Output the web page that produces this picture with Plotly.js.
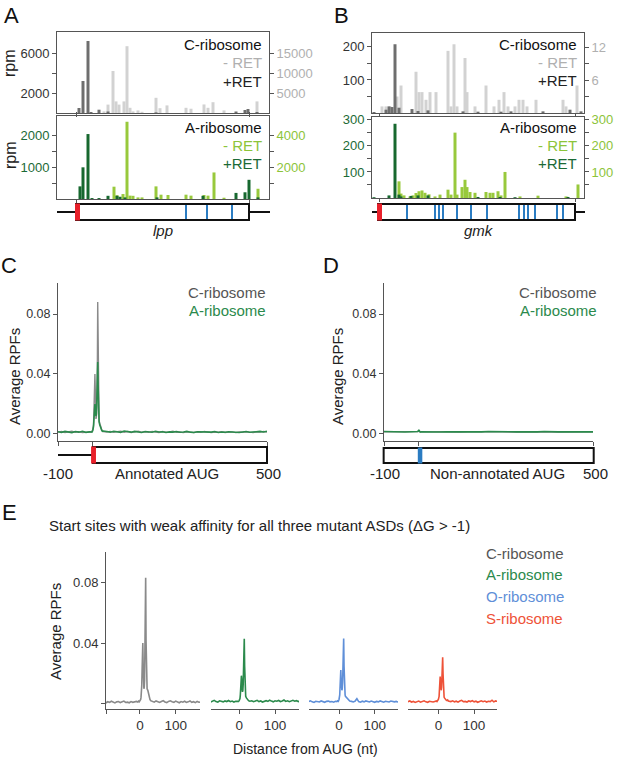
<!DOCTYPE html>
<html><head><meta charset="utf-8">
<script src="https://cdn.plot.ly/plotly-3.0.1.min.js"></script>
<style>html,body{margin:0;padding:0;background:#fff}</style>
</head><body><div id="chart" style="width:617px;height:763px"></div>
<script>
// ================= DATA =================
// Panel A (lpp) - positions along gene (start codon = 0)
const lppLen = 173;
const lppMarks = [110, 131, 156];
const lppC_plusPos = [3, 7, 12, 15, 23, 32, 80, 160, 169, 172, 181];
const lppC_plusVal = [500, 3200, 7200, 100, 330, 150, 60, 150, 300, 400, 100];
const lppC_minusPos = [28, 32, 37, 40, 43, 48, 51, 54, 57, 62, 66, 80, 84, 91, 110, 115, 128, 132, 137, 148, 181];
const lppC_minusVal = [400, 2100, 10500, 2900, 2100, 2900, 16700, 1300, 400, 650, 300, 3800, 1200, 1900, 1300, 1070, 2140, 1300, 2700, 650, 2900];
const lppA_plusPos = [4, 7, 12, 16, 23, 32, 41, 44, 49, 81, 127, 160, 169, 173, 182];
const lppA_plusVal = [395, 990, 2030, 30, 30, 100, 100, 70, 50, 50, 100, 190, 210, 600, 50];
const lppA_minusPos = [38, 41, 47, 51, 54, 57, 62, 66, 80, 85, 92, 110, 115, 128, 132, 138, 148, 182];
const lppA_minusVal = [770, 240, 310, 4830, 210, 200, 100, 100, 790, 270, 250, 270, 210, 250, 210, 1660, 80, 640];

// Panel B (gmk)
const gmkStart = -1, gmkEnd = 196;
const gmkMarks = [28, 56, 60, 64, 78, 92, 108, 140, 145, 149, 156, 178, 184];
const gmkC_plusPos = [-5, 7, 10, 13, 16, 20, 33, 39, 49, 84, 99, 122, 132, 164, 191, 202];
const gmkC_plusVal = [3, 10, 20, 18, 208, 16, 12, 6, 8, 5, 4, 4, 5, 5, 10, 5];
const gmkC_minusPos = [3, 7, 11, 18, 22, 37, 40, 43, 47, 51, 57, 69, 72, 75, 78, 86, 88, 96, 107, 115, 120, 125, 129, 136, 140, 144, 148, 157, 184, 187, 198];
const gmkC_minusVal = [1.2, 1.2, 1.2, 3.0, 5.0, 7.5, 3.8, 3.8, 2.4, 3.8, 3.8, 11.3, 1.2, 12.5, 1.2, 10.0, 3.8, 1.2, 5.0, 1.2, 2.4, 3.8, 1.2, 1.2, 2.4, 2.4, 1.2, 2.4, 2.4, 1.2, 5.0];
const gmkA_plusPos = [-5, 10, 16, 20, 22, 32, 39, 49, 99, 121, 136, 189];
const gmkA_plusVal = [3, 10, 285, 13, 6, 8, 10, 10, 4, 4, 3, 4];
const gmkA_minusPos = [20, 22, 25, 31, 34, 37, 40, 43, 46, 50, 56, 61, 69, 72, 76, 78, 83, 86, 88, 91, 96, 107, 111, 114, 119, 122, 126, 141, 159, 187, 199];
const gmkA_minusVal = [64, 17, 10, 6, 10, 19, 26, 29, 20, 14, 6, 13, 32, 13, 251, 13, 42, 70, 42, 23, 20, 23, 20, 20, 26, 10, 100, 6, 9, 6, 52];

// Panel C (annotated AUG metagene)
const posC = [-100,-90,-80,-70,-60,-50,-40,-30,-20,-10,
  -6,-4,-2,0,2,3,4,5,6,7,8,9,10,11,12,13,14,15,16,17,18,20,22,24,26,28,30,
  40,50,60,70,80,90,100,110,120,130,140,150,160,170,180,190,200,210,220,230,240,250,260,270,280,290,300,310,320,330,340,350,360,370,380,390,400,410,420,430,440,450,460,470,480,490,500];
const cC = [0.0012,0.0016,0.0010,0.0014,0.0018,0.0011,0.0015,0.0009,0.0013,0.0017,
  0.0014,0.0012,0.0018,0.0030,0.0060,0.0120,0.0250,0.0360,0.0400,0.0300,0.0150,0.0100,0.0110,0.0140,0.0220,0.0450,0.0880,0.0500,0.0200,0.0110,0.0090,0.0070,0.0050,0.0035,0.0025,0.0020,0.0016,
  0.0013,0.0017,0.0011,0.0015,0.0019,0.0012,0.0016,0.0010,0.0014,0.0018,
  0.0012,0.0015,0.0011,0.0017,0.0013,0.0010,0.0016,0.0012,0.0014,0.0018,
  0.0011,0.0013,0.0009,0.0015,0.0012,0.0010,0.0014,0.0011,0.0016,0.0012,
  0.0009,0.0013,0.0011,0.0015,0.0010,0.0012,0.0014,0.0009,0.0013,0.0011,
  0.0015,0.0012,0.0010,0.0014,0.0012,0.0016,0.0013];
const aC = [0.0015,0.0011,0.0017,0.0013,0.0009,0.0016,0.0012,0.0018,0.0011,0.0014,
  0.0012,0.0016,0.0013,0.0025,0.0050,0.0090,0.0150,0.0190,0.0200,0.0170,0.0140,0.0120,0.0130,0.0180,0.0300,0.0420,0.0480,0.0330,0.0160,0.0100,0.0080,0.0060,0.0045,0.0030,0.0022,0.0018,0.0020,
  0.0016,0.0012,0.0018,0.0014,0.0011,0.0020,0.0015,0.0012,0.0017,0.0013,
  0.0010,0.0016,0.0014,0.0011,0.0018,0.0013,0.0015,0.0010,0.0014,0.0012,
  0.0016,0.0011,0.0013,0.0017,0.0012,0.0010,0.0015,0.0013,0.0011,0.0014,
  0.0012,0.0016,0.0010,0.0013,0.0011,0.0015,0.0012,0.0014,0.0010,0.0013,
  0.0016,0.0011,0.0014,0.0012,0.0017,0.0013,0.0018];

// Panel D (non-annotated AUG metagene)
const posD = [-100,-80,-60,-40,-20,-8,-4,-2,0,2,4,8,20,40,60,80,100,120,140,160,180,200,220,240,260,280,300,320,340,360,380,400,420,440,460,480,500];
const cD = [0.0014,0.0015,0.0013,0.0015,0.0014,0.0014,0.0015,0.0016,0.0020,0.0016,0.0015,0.0014,0.0013,0.0014,0.0015,0.0013,0.0014,0.0013,0.0014,0.0015,0.0013,0.0014,0.0013,0.0014,0.0013,0.0014,0.0015,0.0013,0.0014,0.0013,0.0014,0.0013,0.0014,0.0013,0.0014,0.0013,0.0014];
const aD = [0.0016,0.0014,0.0016,0.0013,0.0015,0.0014,0.0016,0.0019,0.0028,0.0018,0.0013,0.0015,0.0014,0.0016,0.0013,0.0015,0.0014,0.0016,0.0013,0.0015,0.0014,0.0016,0.0014,0.0013,0.0015,0.0014,0.0013,0.0015,0.0014,0.0016,0.0013,0.0014,0.0015,0.0013,0.0014,0.0015,0.0014];

// Panel E (four ribosomes, weak-affinity start sites)
const posE = [-100,-95,-90,-85,-80,-75,-70,-65,-60,-55,-50,-45,-40,-35,-30,-25,-20,-15,-10,
  -6,-4,-2,0,2,3,4,5,6,7,8,9,10,11,12,13,14,15,16,17,18,20,22,24,26,28,30,
  35,40,45,50,55,60,65,70,75,80,85,90,95,100,105,110,115,120,125,130,135,140,145,150,155,160,165,170,175];
const eC = [0.0012,0.0008,0.0015,0.0010,0.0018,0.0011,0.0007,0.0014,0.0016,0.0009,0.0013,0.0019,0.0010,0.0012,0.0008,0.0016,0.0011,0.0014,0.0017,
  0.0013,0.0019,0.0015,0.0022,0.0030,0.0045,0.0070,0.0120,0.0220,0.0340,0.0400,0.0250,0.0120,0.0100,0.0110,0.0160,0.0300,0.0580,0.0830,0.0420,0.0150,0.0100,0.0090,0.0060,0.0040,0.0030,0.0022,
  0.0018,0.0012,0.0020,0.0014,0.0010,0.0016,0.0022,0.0013,0.0009,0.0017,0.0021,0.0015,0.0011,0.0019,0.0013,0.0008,0.0016,0.0012,0.0018,0.0010,0.0014,0.0020,0.0011,0.0015,0.0009,0.0017,0.0012,0.0014,0.0010];
const eA = [0.0018,0.0022,0.0015,0.0020,0.0013,0.0019,0.0024,0.0016,0.0012,0.0021,0.0017,0.0014,0.0020,0.0016,0.0023,0.0015,0.0019,0.0013,0.0018,
  0.0016,0.0020,0.0017,0.0024,0.0035,0.0060,0.0100,0.0150,0.0186,0.0160,0.0100,0.0080,0.0090,0.0130,0.0240,0.0360,0.0428,0.0250,0.0110,0.0070,0.0050,0.0040,0.0032,0.0028,0.0022,0.0020,0.0018,
  0.0021,0.0015,0.0019,0.0024,0.0016,0.0020,0.0013,0.0018,0.0022,0.0017,0.0025,0.0019,0.0014,0.0021,0.0018,0.0023,0.0016,0.0020,0.0026,0.0017,0.0021,0.0015,0.0019,0.0024,0.0018,0.0022,0.0016,0.0020,0.0017];
const eO = [0.0015,0.0019,0.0012,0.0017,0.0021,0.0014,0.0010,0.0018,0.0016,0.0013,0.0020,0.0015,0.0011,0.0017,0.0019,0.0014,0.0016,0.0012,0.0018,
  0.0016,0.0021,0.0018,0.0030,0.0060,0.0120,0.0190,0.0223,0.0150,0.0100,0.0090,0.0100,0.0140,0.0240,0.0380,0.0430,0.0250,0.0120,0.0080,0.0060,0.0050,0.0045,0.0035,0.0030,0.0025,0.0022,0.0020,
  0.0017,0.0013,0.0019,0.0035,0.0016,0.0012,0.0018,0.0014,0.0020,0.0016,0.0013,0.0019,0.0015,0.0011,0.0017,0.0014,0.0020,0.0016,0.0012,0.0018,0.0015,0.0013,0.0019,0.0016,0.0014,0.0017,0.0013,0.0018,0.0015];
const eS = [0.0014,0.0018,0.0011,0.0016,0.0020,0.0013,0.0017,0.0010,0.0015,0.0019,0.0012,0.0016,0.0021,0.0014,0.0011,0.0018,0.0015,0.0013,0.0017,
  0.0020,0.0016,0.0024,0.0030,0.0050,0.0100,0.0150,0.0180,0.0140,0.0100,0.0090,0.0110,0.0170,0.0260,0.0307,0.0200,0.0100,0.0060,0.0045,0.0040,0.0035,0.0030,0.0025,0.0022,0.0026,0.0020,0.0018,
  0.0016,0.0021,0.0014,0.0018,0.0012,0.0019,0.0024,0.0015,0.0017,0.0013,0.0020,0.0016,0.0022,0.0014,0.0018,0.0011,0.0017,0.0021,0.0015,0.0019,0.0013,0.0018,0.0016,0.0025,0.0014,0.0020,0.0017,0.0023,0.0015];

// Text
const panelLetters = ['A','B','C','D','E'];
const eTitle = 'Start sites with weak affinity for all three mutant ASDs (\u0394G > -1)';
const eNames = ['C-ribosome','A-ribosome','O-ribosome','S-ribosome'];

// ================= STYLE / LAYOUT =================
const W = 617, H = 763;
const px = x => x / W;
const py = y => 1 - y / H;
const FONT = 'Liberation Sans, Arial, Helvetica, sans-serif';
const LINE = '#555';
const COL = {dkGray:'#6e6e6e', ltGray:'#d2d2d2', dkGreen:'#17682f', ltGreen:'#98c93c',
  ltGrayTxt:'#b0b0b0', ltGreenTxt:'#8cc43a', dkGreenTxt:'#1c6a36',
  cLine:'#8a8a8a', aLine:'#2b8a4c', oLine:'#5f8fd8', sLine:'#ee5238', blue:'#2b7cc2', red:'#e8202a'};

function bx(dom, range, anchor, extra) {
  return Object.assign({domain:[px(dom[0]), px(dom[1])], range:range, anchor:anchor, showline:true,
    linecolor:LINE, linewidth:1, showgrid:false, zeroline:false, ticks:'outside', ticklen:3,
    tickcolor:LINE, showticklabels:false}, extra || {});
}
function by(extra, size, color) {
  return Object.assign({showline:true, linecolor:LINE, linewidth:1, showgrid:false, zeroline:false,
    ticks:'outside', ticklen:4, tickcolor:LINE,
    tickfont:{family:FONT, size:size || 13, color:color || '#333'}}, extra);
}
function hid(dom, range) {
  return {domain:[px(dom[0]), px(dom[1])], range:range, anchor:'y', visible:false, showgrid:false, zeroline:false};
}

const layout = {
  width:W, height:H, margin:{l:0, r:0, t:0, b:0},
  paper_bgcolor:'#fff', plot_bgcolor:'rgba(0,0,0,0)', showlegend:false, barmode:'overlay',
  font:{family:FONT, size:13, color:'#333'},
  // A top
  xaxis: bx([57,269], [-19,193], 'y', {mirror:true, tickvals:[0, lppLen]}),
  yaxis: by({domain:[py(113), py(32)], range:[0,20250], side:'right', anchor:'x', mirror:true,
    tickvals:[5000,10000,15000], ticktext:['5000','10000','15000']}, 13, COL.ltGrayTxt),
  yaxis2: by({overlaying:'y', side:'left', anchor:'x', range:[0,8100],
    tickvals:[2000,4000,6000], ticktext:['2000','','6000']}, 13, '#333'),
  // A bottom
  xaxis2: bx([57,269], [-19,193], 'y3', {mirror:'ticks', tickvals:[0, lppLen]}),
  yaxis3: by({domain:[py(199), py(116)], range:[0,5190], side:'right', anchor:'x2', mirror:true,
    tickvals:[1000,2000,3000,4000], ticktext:['','2000','','4000']}, 13, COL.ltGreenTxt),
  yaxis4: by({overlaying:'y3', side:'left', anchor:'x2', range:[0,2594],
    tickvals:[500,1000,1500,2000], ticktext:['','1000','','2000']}, 13, COL.dkGreenTxt),
  // B top
  xaxis3: bx([372,584], [-7,205], 'y5', {mirror:true, tickvals:[0, gmkEnd]}),
  yaxis5: by({domain:[py(113), py(33)], range:[0,14.55], side:'right', anchor:'x3', mirror:true,
    tickvals:[3,6,9,12], ticktext:['','6','','12']}, 13, COL.ltGrayTxt),
  yaxis6: by({overlaying:'y5', side:'left', anchor:'x3', range:[0,242],
    tickvals:[50,100,150,200], ticktext:['','100','','200']}, 13, '#333'),
  // B bottom
  xaxis4: bx([372,584], [-7,205], 'y7', {mirror:'ticks', tickvals:[0, gmkEnd]}),
  yaxis7: by({domain:[py(198), py(117)], range:[0,311], side:'right', anchor:'x4', mirror:true,
    tickvals:[50,100,150,200,250,300], ticktext:['','100','','200','','300']}, 13, COL.ltGreenTxt),
  yaxis8: by({overlaying:'y7', side:'left', anchor:'x4', range:[0,311],
    tickvals:[50,100,150,200,250,300], ticktext:['','100','','200','','300']}, 13, COL.dkGreenTxt),
  // C
  xaxis5: bx([58,267], [-100,500], 'y9', {tickvals:[-100,0,500], ticklen:4}),
  yaxis9: by({domain:[py(441), py(283)], range:[-0.0047,0.1007], anchor:'x5',
    tickvals:[0,0.04,0.08], ticktext:['0.00','0.04','0.08']}, 12.5),
  // D
  xaxis6: bx([384,593], [-100,500], 'y10', {tickvals:[-100,0,500], ticklen:4}),
  yaxis10: by({domain:[py(441), py(283)], range:[-0.0047,0.1007], anchor:'x6',
    tickvals:[0,0.04,0.08], ticktext:['0.00','0.04','0.08']}, 12.5),
  // E
  xaxis7: bx([106,200], [-95,168], 'y11', {tickvals:[-95,0,100], ticktext:['','0','100'], showticklabels:true, ticklen:4, tickfont:{family:FONT,size:13.5,color:'#333'}}),
  xaxis8: bx([211,299], [-79,167], 'y11', {tickvals:[0,100], showticklabels:true, ticklen:4, tickfont:{family:FONT,size:13.5,color:'#333'}}),
  xaxis9: bx([309,398], [-84,165], 'y11', {tickvals:[0,100], showticklabels:true, ticklen:4, tickfont:{family:FONT,size:13.5,color:'#333'}}),
  xaxis10: bx([408,497], [-85,164], 'y11', {tickvals:[0,100], showticklabels:true, ticklen:4, tickfont:{family:FONT,size:13.5,color:'#333'}}),
  yaxis11: by({domain:[py(709), py(552)], range:[-0.0033,0.0999], anchor:'x7',
    tickvals:[0,0.04,0.08], ticktext:['','0.04','0.08']}, 13),
  // hidden axes for gene diagrams (same scale, wider span)
  xaxis11: hid([47,279], [-29,203]),
  xaxis12: hid([362,594], [-17,215]),
  xaxis13: hid([48,277], [-128.7,528.7]),
  xaxis14: hid([374,603], [-128.7,528.7]),
  shapes: [], annotations: []
};

// ================= TRACES =================
function bar(x, y, xa, ya, color) {
  return {type:'bar', x:x, y:y, xaxis:xa, yaxis:ya, width:3, marker:{color:color, line:{width:0}}, hoverinfo:'skip'};
}
function line(x, y, xa, ya, color, w) {
  return {type:'scatter', mode:'lines', x:x, y:y, xaxis:xa, yaxis:ya, line:{color:color, width:w || 1.5}, hoverinfo:'skip'};
}
const data = [
  bar(lppC_minusPos, lppC_minusVal, 'x', 'y', COL.ltGray),
  bar(lppC_plusPos, lppC_plusVal, 'x', 'y2', COL.dkGray),
  bar(lppA_minusPos, lppA_minusVal, 'x2', 'y3', COL.ltGreen),
  bar(lppA_plusPos, lppA_plusVal, 'x2', 'y4', COL.dkGreen),
  bar(gmkC_minusPos, gmkC_minusVal, 'x3', 'y5', COL.ltGray),
  bar(gmkC_plusPos, gmkC_plusVal, 'x3', 'y6', COL.dkGray),
  bar(gmkA_minusPos, gmkA_minusVal, 'x4', 'y7', COL.ltGreen),
  bar(gmkA_plusPos, gmkA_plusVal, 'x4', 'y8', COL.dkGreen),
  line(posC, cC, 'x5', 'y9', COL.cLine, 1.4),
  line(posC, aC, 'x5', 'y9', COL.aLine, 1.6),
  line(posD, cD, 'x6', 'y10', COL.cLine, 1.4),
  line(posD, aD, 'x6', 'y10', COL.aLine, 1.6),
  line(posE, eC, 'x7', 'y11', COL.cLine, 1.6),
  line(posE, eA, 'x8', 'y11', COL.aLine, 1.6),
  line(posE, eO, 'x9', 'y11', COL.oLine, 1.6),
  line(posE, eS, 'x10', 'y11', COL.sLine, 1.6)
];

// ================= GENE DIAGRAMS (shapes) =================
function gene(xa, lineFrom, lineTo, boxFrom, boxTo, yMid, y0, y1, startFrom, startTo, startColor, marks) {
  const S = layout.shapes;
  if (lineFrom !== null) S.push({type:'line', xref:xa, yref:'paper', x0:lineFrom, x1:lineTo, y0:py(yMid), y1:py(yMid), line:{color:'#111', width:2}});
  S.push({type:'rect', xref:xa, yref:'paper', x0:boxFrom, x1:boxTo, y0:py(y1), y1:py(y0), fillcolor:'#fff', line:{color:'#111', width:2}});
  marks.forEach(m => S.push({type:'line', xref:xa, yref:'paper', x0:m, x1:m, y0:py(y1-1), y1:py(y0+1), line:{color:COL.blue, width:2}}));
  S.push({type:'rect', xref:xa, yref:'paper', x0:startFrom, x1:startTo, y0:py(y1+0.5), y1:py(y0-0.5), fillcolor:startColor, line:{width:0}});
}
gene('x11', -19, 194, 0, lppLen, 212, 204, 220, -1, 4, COL.red, lppMarks);
gene('x12', -7, 206, gmkStart, gmkEnd, 212, 204, 220, -2, 3, COL.red, gmkMarks);
gene('x13', -100, 0, 0, 500, 455, 447, 463, -5, 9, COL.red, []);
gene('x14', null, null, -101, 502, 455, 448, 463, -3, 10, COL.blue, []);

// ================= TEXT =================
function txt(text, x, y, size, color, xanchor, extra) {
  layout.annotations.push(Object.assign({text:text, x:px(x), y:py(y), xref:'paper', yref:'paper', showarrow:false,
    xanchor:xanchor || 'center', yanchor:'middle', font:{family:FONT, size:size, color:color}}, extra || {}));
}
const letterPos = [[11,15],[342,15],[9,265],[331,265],[9,512]];
panelLetters.forEach((l, i) => txt(l, letterPos[i][0], letterPos[i][1], 22, '#111'));

txt('rpm', 10, 63, 16, '#222', 'center', {textangle:-90});
txt('rpm', 10, 155, 16, '#222', 'center', {textangle:-90});

const legA = [['C-ribosome','#111'],['- RET',COL.ltGrayTxt],['+RET','#222']];
const legA2 = [['A-ribosome','#111'],['- RET',COL.ltGreenTxt],['+RET',COL.dkGreenTxt]];
[45,63,81].forEach((y,i) => { txt(legA[i][0], 264, y, 15, legA[i][1], 'right'); txt(legA[i][0], 579, y-1, 15, legA[i][1], 'right'); });
[128,146,163].forEach((y,i) => { txt(legA2[i][0], 264, y, 15, legA2[i][1], 'right'); txt(legA2[i][0], 579, y, 15, legA2[i][1], 'right'); });

txt('<i>lpp</i>', 163, 231, 15, '#222');
txt('<i>gmk</i>', 479, 231, 15, '#222');

// C & D
txt('C-ribosome', 268, 292, 15, '#555', 'right');
txt('A-ribosome', 268, 310, 15, COL.aLine, 'right');
txt('C-ribosome', 599, 292, 15, '#555', 'right');
txt('A-ribosome', 599, 310, 15, COL.aLine, 'right');
txt('Average RPFs', 14, 377, 15, '#222', 'center', {textangle:-90});
txt('Average RPFs', 337, 377, 15, '#222', 'center', {textangle:-90});
txt('-100', 58, 473, 15, '#222');
txt('Annotated AUG', 167, 473, 15, '#222');
txt('500', 268, 473, 15, '#222');
txt('-100', 385, 473, 15, '#222');
txt('Non-annotated AUG', 497, 473, 15, '#222');
txt('500', 595, 473, 15, '#222');

// E
txt(eTitle, 47, 525, 15, '#222', 'left');
const eCols = ['#555', COL.aLine, COL.oLine, COL.sLine];
[553,574,596,618].forEach((y,i) => txt(eNames[i], 484, y, 15, eCols[i], 'left'));
txt('Average RPFs', 55, 632, 15, '#222', 'center', {textangle:-90});
txt('Distance from AUG (nt)', 305, 749, 14, '#222');

Plotly.newPlot('chart', data, layout, {staticPlot:true, displayModeBar:false});
</script>
</body></html>
